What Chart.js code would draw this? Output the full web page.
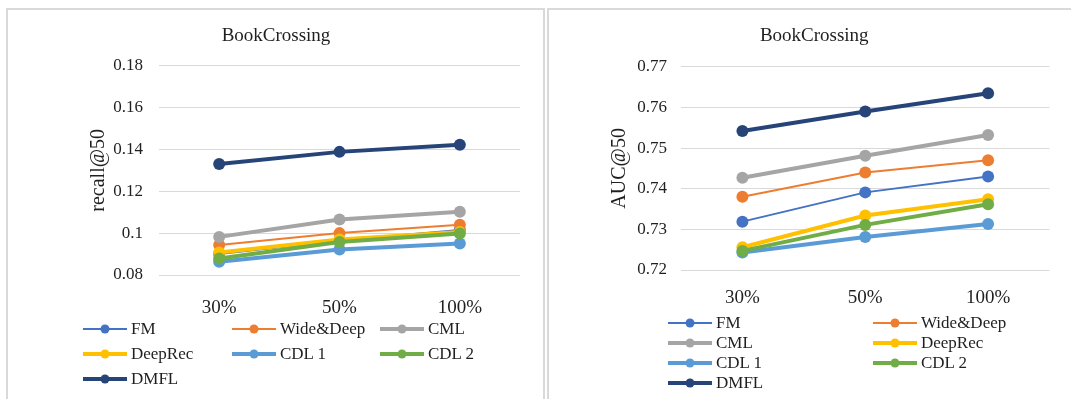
<!DOCTYPE html>
<html><head><meta charset="utf-8">
<script src="https://cdn.jsdelivr.net/npm/chart.js@4.4.1/dist/chart.umd.min.js"></script>
<style>
html,body{margin:0;padding:0;background:#fff;width:1071px;height:399px;overflow:hidden;position:relative;font-family:"Liberation Serif","Times New Roman",serif;color:#1f1f1f}
.panel{position:absolute;border:2px solid #d9d9d9;border-bottom:none;box-sizing:border-box}
canvas{position:absolute}
.lg{position:absolute;height:20px;display:flex;align-items:center;font-size:17px;white-space:nowrap;line-height:20px}
.lg svg{display:block;margin-right:4px;flex:none}
</style></head><body>
<div class="panel" style="left:6px;top:8px;width:539px;height:400px"></div>
<div class="panel" style="left:547px;top:8px;width:540px;height:400px"></div>
<canvas id="c1" width="535" height="390" style="left:8px;top:9px"></canvas>
<canvas id="c2" width="523" height="390" style="left:548px;top:9px"></canvas>
<div id="legend1"></div>
<div id="legend2"></div>
<script>
const categories = ['30%', '50%', '100%'];
const seriesNames = ['FM', 'Wide&Deep', 'CML', 'DeepRec', 'CDL 1', 'CDL 2', 'DMFL'];
const seriesColors = ['#4472C4', '#ED7D31', '#A5A5A5', '#FFC000', '#5B9BD5', '#70AD47', '#264478'];
const seriesWidths = [2, 2, 4, 4, 4, 4, 4];

const recallFM = [0.0900, 0.0965, 0.1015];
const recallWideDeep = [0.0943, 0.1000, 0.1040];
const recallCML = [0.0982, 0.1065, 0.1102];
const recallDeepRec = [0.0907, 0.0970, 0.1005];
const recallCDL1 = [0.0863, 0.0922, 0.0950];
const recallCDL2 = [0.0879, 0.0958, 0.0998];
const recallDMFL = [0.1330, 0.1388, 0.1422];

const aucFM = [0.7319, 0.7391, 0.7430];
const aucWideDeep = [0.7380, 0.7440, 0.7470];
const aucCML = [0.7427, 0.7481, 0.7532];
const aucDeepRec = [0.7256, 0.7334, 0.7374];
const aucCDL1 = [0.7243, 0.7281, 0.7313];
const aucCDL2 = [0.7247, 0.7311, 0.7362];
const aucDMFL = [0.7542, 0.7590, 0.7635];

const recallTicks = ['0.08', '0.1', '0.12', '0.14', '0.16', '0.18'];
const aucTicks = ['0.72', '0.73', '0.74', '0.75', '0.76', '0.77'];

const chartTitle = 'BookCrossing';
const recallTitle = 'recall@50';
const aucTitle = 'AUC@50';

const FONT = '"Liberation Serif", "Times New Roman", serif';
const TXT = '#1f1f1f';

function makeDatasets(seriesData) {
  return seriesData.map((d, i) => ({
    label: seriesNames[i],
    data: d,
    borderColor: seriesColors[i],
    backgroundColor: seriesColors[i],
    borderWidth: seriesWidths[i],
    pointRadius: 6,
    pointHoverRadius: 6,
    pointBorderWidth: 0,
    pointBackgroundColor: seriesColors[i],
    tension: 0,
    order: seriesData.length - 1 - i
  }));
}

function makeChart(id, seriesData, tickLabels, yTitle, g) {
  const tickVals = tickLabels.map(t => parseFloat(t));
  return new Chart(document.getElementById(id), {
    type: 'line',
    data: { labels: categories, datasets: makeDatasets(seriesData) },
    options: {
      responsive: false,
      animation: false,
      events: [],
      layout: { padding: { left: g.padL, right: g.padR, top: 0, bottom: 0 } },
      plugins: {
        legend: { display: false },
        tooltip: { enabled: false },
        title: {
          display: true, text: chartTitle, color: TXT,
          font: { family: FONT, size: 19, weight: 'normal' },
          padding: { top: 16, bottom: g.titleBottom }
        }
      },
      scales: {
        x: {
          type: 'category', offset: true,
          grid: { display: false, drawTicks: false, tickLength: 0 },
          border: { display: false },
          ticks: { color: TXT, font: { family: FONT, size: 19 }, padding: g.xPad, maxRotation: 0 },
          afterFit: s => { s.height = g.xH; }
        },
        y: {
          min: tickVals[0], max: tickVals[tickVals.length - 1],
          grid: { color: '#d9d9d9', lineWidth: 1, drawTicks: false, tickLength: 0 },
          border: { display: false },
          afterBuildTicks: s => { s.ticks = tickVals.map(v => ({ value: v })); },
          ticks: {
            color: TXT, font: { family: FONT, size: 17 }, padding: g.yPad,
            callback: (v, i) => tickLabels[i]
          },
          title: {
            display: true, text: yTitle, color: TXT,
            font: { family: FONT, size: 20 }, padding: { top: g.yTitlePad, bottom: 0 }
          },
          afterFit: s => { s.width = g.yW; }
        }
      }
    }
  });
}

const chart1 = makeChart('c1',
  [recallFM, recallWideDeep, recallCML, recallDeepRec, recallCDL1, recallCDL2, recallDMFL],
  recallTicks, recallTitle,
  { padL: 24, padR: 23, titleBottom: 17.8, xH: 124, xPad: 22, yW: 127, yPad: 16, yTitlePad: 55 });

const chart2 = makeChart('c2',
  [aucFM, aucWideDeep, aucCML, aucDeepRec, aucCDL1, aucCDL2, aucDMFL],
  aucTicks, aucTitle,
  { padL: 31, padR: 21.5, titleBottom: 19, xH: 129, xPad: 17, yW: 102, yPad: 14, yTitlePad: 29 });

function buildLegend(chart, containerId, cols, rows) {
  const box = document.getElementById(containerId);
  chart.data.datasets.forEach((ds, i) => {
    const c = i % cols.length, r = Math.floor(i / cols.length);
    const item = document.createElement('div');
    item.className = 'lg';
    item.style.left = cols[c] + 'px';
    item.style.top = (rows[r] - 10) + 'px';
    const w = ds.borderWidth > 2 ? 4 : 2;
    item.innerHTML = '<svg width="44" height="20"><line x1="0" y1="10" x2="44" y2="10" stroke="' + ds.borderColor +
      '" stroke-width="' + w + '"/><circle cx="22" cy="10" r="4.5" fill="' + ds.borderColor + '"/></svg>';
    const span = document.createElement('span');
    span.textContent = ds.label;
    item.appendChild(span);
    box.appendChild(item);
  });
}
buildLegend(chart1, 'legend1', [83, 232, 380], [329, 354, 379]);
buildLegend(chart2, 'legend2', [668, 873], [323, 343, 363, 383]);
</script>
</body></html>
